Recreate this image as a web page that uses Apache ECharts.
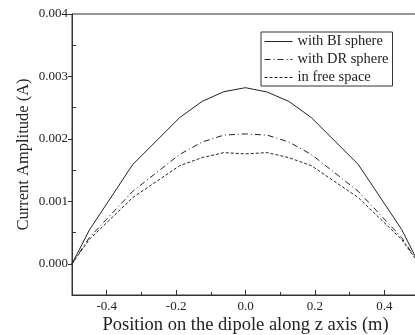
<!DOCTYPE html>
<html>
<head>
<meta charset="utf-8">
<script src="https://cdn.jsdelivr.net/npm/echarts@6/dist/echarts.min.js"></script>
<style>
  html, body { margin: 0; padding: 0; background: #fff; }
  #chart { width: 415px; height: 335px; }
</style>
</head>
<body>
<div id="chart"></div>
<script>
// positions along the dipole (m)
const zPos = [-0.5, -0.45, -0.325, -0.19, -0.125, -0.0625, 0, 0.0625, 0.125, 0.19, 0.325, 0.45, 0.5];
const biSphere = [0, 0.00054, 0.00159, 0.00234, 0.0026, 0.002756, 0.00282, 0.00275, 0.0026, 0.00234, 0.00159, 0.00055, 0];
const drSphere = [0, 0.00042, 0.00116, 0.00175, 0.00195, 0.00206, 0.00208, 0.00206, 0.00195, 0.00175, 0.00116, 0.00042, 0];
const freeSpace = [0, 0.00039, 0.00106, 0.00157, 0.0017, 0.00178, 0.00176, 0.00178, 0.0017, 0.00157, 0.00106, 0.00039, 0];
const seriesNames = ['with BI sphere', 'with DR sphere', 'in free space'];
const xMajor = [-0.4, -0.2, 0, 0.2, 0.4];
const xMinor = [-0.5, -0.3, -0.1, 0.1, 0.3, 0.5];
const yMajor = [0, 0.001, 0.002, 0.003, 0.004];
const yMinor = [-0.0005, 0.0005, 0.0015, 0.0025, 0.0035];

const font = 'Liberation Serif';
const ink = '#222';

function pairs(ys) {
  return zPos.map((z, i) => [z, ys[i]]);
}

let myChart = echarts.init(document.getElementById('chart'));
let option = {
  animation: false,
  textStyle: { fontFamily: font },
  grid: {
    left: 72, top: 14, width: 347, height: 281,
    outerBoundsMode: 'none', containLabel: false,
    show: true, borderColor: '#333', borderWidth: 1
  },
  legend: {
    orient: 'vertical',
    left: 261,
    top: 32,
    padding: [2, 4, 1, 3],
    itemWidth: 28,
    itemHeight: 14,
    itemGap: 3,
    itemStyle: { opacity: 0 },
    lineStyle: { width: 1 },
    borderColor: '#333',
    borderWidth: 1,
    textStyle: { fontFamily: font, fontSize: 14.5, color: ink },
    data: seriesNames
  },
  xAxis: [
    {
      type: 'value', min: -0.5, max: 0.5,
      name: 'Position on the dipole along z axis (m)',
      nameLocation: 'middle', nameGap: 21, nameMoveOverlap: false,
      nameTextStyle: { fontFamily: font, fontSize: 18.5, color: ink },
      axisLine: { onZero: false, lineStyle: { color: '#333' } },
      axisTick: { inside: true, length: 5, customValues: xMajor, lineStyle: { color: '#333' } },
      axisLabel: { customValues: xMajor, margin: 5, fontFamily: font, fontSize: 13, color: ink,
        formatter: v => v.toFixed(1) },
      splitLine: { show: false }
    },
    {
      type: 'value', min: -0.5, max: 0.5, position: 'bottom',
      axisLine: { show: false, onZero: false },
      axisTick: { inside: true, length: 3, customValues: xMinor, lineStyle: { color: '#333' } },
      axisLabel: { show: false },
      splitLine: { show: false }
    }
  ],
  yAxis: [
    {
      type: 'value', min: -0.0005, max: 0.004,
      name: 'Current Amplitude (A)',
      nameLocation: 'middle', nameGap: 40, nameMoveOverlap: false,
      nameTextStyle: { fontFamily: font, fontSize: 16.5, color: ink },
      axisLine: { show: true, onZero: false, lineStyle: { color: '#333' } },
      axisTick: { show: true, inside: false, length: 4, customValues: yMajor, lineStyle: { color: '#333' } },
      axisLabel: { customValues: yMajor, margin: 4, fontFamily: font, fontSize: 13, color: ink,
        formatter: v => v.toFixed(3) },
      splitLine: { show: false }
    },
    {
      type: 'value', min: -0.0005, max: 0.004, position: 'left',
      axisLine: { show: false, onZero: false },
      axisTick: { show: true, inside: true, length: 4, customValues: yMinor, lineStyle: { color: '#333' } },
      axisLabel: { show: false },
      splitLine: { show: false }
    }
  ],
  series: [
    {
      name: seriesNames[0], type: 'line', symbol: 'none',
      data: pairs(biSphere),
      itemStyle: { color: ink },
      lineStyle: { color: ink, width: 1 }
    },
    {
      name: seriesNames[1], type: 'line', symbol: 'none',
      data: pairs(drSphere),
      itemStyle: { color: ink },
      lineStyle: { color: ink, width: 1, type: [6, 3, 1, 3] }
    },
    {
      name: seriesNames[2], type: 'line', symbol: 'none',
      data: pairs(freeSpace),
      itemStyle: { color: ink },
      lineStyle: { color: ink, width: 1, type: [3, 2] }
    }
  ]
};

option && myChart.setOption(option);
</script>
</body>
</html>
